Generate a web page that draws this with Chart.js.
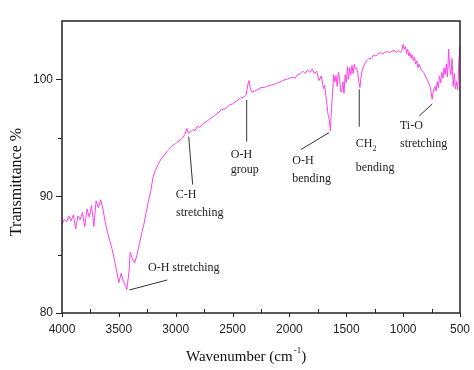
<!DOCTYPE html>
<html>
<head>
<meta charset="utf-8">
<script src="https://cdn.jsdelivr.net/npm/chart.js@4.4.0/dist/chart.umd.min.js"></script>
<style>
html, body { margin: 0; padding: 0; background: #fff; }
</style>
</head>
<body>
<canvas id="myChart" width="474" height="370"></canvas>
<script>
// FTIR spectrum
const wavenumbers = [
  4000, 3980, 3960, 3940, 3920, 3900, 3880, 3860, 3840, 3820, 3800, 3780, 3760, 3740, 3720, 3700,
  3680, 3660, 3640, 3620, 3600, 3580, 3560, 3540, 3520, 3500, 3480, 3460, 3440, 3430, 3410, 3400,
  3380, 3360, 3340, 3320, 3300, 3280, 3260, 3240, 3220, 3200, 3180, 3160, 3140, 3120, 3100, 3080,
  3060, 3040, 3020, 3000, 2980, 2960, 2940, 2920, 2900, 2890, 2870, 2850, 2830, 2810, 2790, 2760,
  2730, 2700, 2660, 2630, 2600, 2560, 2530, 2500, 2460, 2430, 2400, 2380, 2365, 2355, 2345, 2330,
  2310, 2280, 2250, 2220, 2200, 2160, 2130, 2100, 2060, 2030, 2000, 1970, 1950, 1930, 1900, 1880,
  1860, 1840, 1820, 1800, 1780, 1760, 1740, 1720, 1700, 1690, 1680, 1670, 1660, 1650, 1640, 1630,
  1620, 1610, 1600, 1590, 1580, 1570, 1560, 1550, 1540, 1530, 1520, 1510, 1500, 1490, 1480, 1470,
  1460, 1450, 1440, 1430, 1420, 1410, 1400, 1390, 1380, 1370, 1360, 1340, 1320, 1300, 1280, 1260,
  1240, 1220, 1200, 1180, 1160, 1140, 1120, 1100, 1080, 1060, 1040, 1020, 1010, 1000, 990, 980,
  970, 960, 950, 940, 930, 920, 910, 900, 890, 880, 870, 860, 840, 820, 800, 780,
  760, 745, 735, 720, 710, 700, 690, 680, 670, 660, 650, 640, 630, 620, 610, 600,
  590, 580, 570, 560, 550, 540, 530, 520, 510, 500
];
const transmittance = [
  87.6, 88.0, 87.8, 88.3, 87.9, 88.4, 87.2, 88.3, 88.0, 88.6, 87.4, 88.9, 88.2, 89.2, 87.4, 89.6,
  89.0, 89.7, 88.9, 87.8, 86.9, 86.2, 85.5, 84.6, 83.6, 82.6, 83.4, 82.7, 82.3, 82.0, 83.6, 85.2,
  84.6, 84.3, 85.0, 85.9, 86.8, 87.6, 88.6, 89.6, 90.4, 91.6, 92.2, 92.6, 93.0, 93.3, 93.5, 93.8,
  94.0, 94.2, 94.4, 94.5, 94.7, 94.8, 95.0, 95.3, 95.8, 95.4, 95.5, 95.7, 95.6, 96.0, 95.9, 96.2,
  96.4, 96.6, 96.9, 97.1, 97.4, 97.5, 97.8, 97.9, 98.2, 98.4, 98.5, 98.7, 99.6, 99.9, 99.3, 98.9,
  99.0, 99.1, 99.3, 99.3, 99.4, 99.5, 99.6, 99.7, 99.9, 100.0, 100.1, 100.2, 100.1, 100.4, 100.5, 100.7,
  100.5, 100.8, 100.6, 100.9, 100.5, 100.7, 99.9, 100.3, 99.2, 99.5, 98.6, 97.8, 97.0, 96.6, 95.6, 97.5,
  99.0, 100.4, 99.8, 100.3, 99.4, 100.6, 100.2, 99.0, 98.9, 99.8, 98.8, 100.4, 99.7, 101.1, 100.0, 101.0,
  100.4, 101.2, 100.5, 101.3, 100.9, 101.0, 100.6, 99.8, 99.3, 100.2, 100.8, 101.3, 101.6, 101.8, 101.8, 102.1,
  102.0, 102.2, 102.3, 102.2, 102.3, 102.4, 102.3, 102.4, 102.5, 102.3, 102.5, 102.3, 102.5, 103.0, 102.6, 102.8,
  102.2, 102.6, 102.0, 102.3, 101.8, 102.1, 101.6, 101.9, 101.3, 101.6, 101.0, 101.3, 100.8, 100.6, 100.2, 99.8,
  99.3, 98.3, 99.0, 99.4, 99.0, 99.8, 99.3, 100.3, 99.7, 100.6, 100.1, 101.0, 100.4, 101.3, 100.2, 102.6,
  101.0, 100.4, 101.8, 99.4, 100.5, 99.2, 99.8, 99.1, 101.6, 102.8
];
const xTicks = [4000, 3500, 3000, 2500, 2000, 1500, 1000, 500];
const yTicks = [80, 90, 100];

// band labels: leader line ends and text anchors in (wavenumber, %T)
const notes = [
  { line: [[3408, 81.97], [3074, 82.83]], text: [['O-H stretching', 3244, 83.88]] },
  { line: [[2886, 95.1], [2851, 91.0]], text: [['C-H', 3000, 90.1], ['stretching', 2997, 88.6]] },
  { line: [[2376, 98.24], [2376, 94.67]], text: [['O-H', 2516, 93.5], ['group', 2516, 92.24]] },
  { line: [[1652, 95.44], [1898, 94.0]], text: [['O-H', 1975, 93.0], ['bending', 1975, 91.47]] },
  { line: [[1386, 99.15], [1386, 95.95]], text: [['CH', 1417, 94.44, '2'], ['bending', 1417, 92.39]] },
  { line: [[744, 97.9], [858, 96.87]], text: [['Ti-O', 1028, 96.0], ['stretching', 1028, 94.47]] }
];

const serif = '"Liberation Serif", "Times New Roman", serif';

const extras = {
  id: 'extras',
  afterDraw(chart) {
    const ctx = chart.ctx;
    const a = chart.chartArea;
    const x = chart.scales.x;
    const y = chart.scales.y;
    ctx.save();

    // box
    ctx.strokeStyle = '#222';
    ctx.lineWidth = 1.5;
    ctx.strokeRect(a.left, a.top, a.right - a.left, a.bottom - a.top);

    // ticks
    ctx.lineWidth = 1;
    ctx.beginPath();
    for (let v = 500; v <= 4000; v += 250) {
      const px = Math.round(x.getPixelForValue(v)) + 0.5;
      if (v % 500 == 0) {
        ctx.moveTo(px, a.bottom); ctx.lineTo(px, a.bottom + 4);
      } else {
        ctx.moveTo(px, a.bottom); ctx.lineTo(px, a.bottom - 4);
      }
    }
    for (let v = 80; v <= 100; v += 5) {
      const py = Math.round(y.getPixelForValue(v)) + 0.5;
      ctx.moveTo(a.left, py);
      ctx.lineTo(a.left - (v % 10 == 0 ? 6 : 4), py);
    }
    ctx.stroke();

    // band labels
    ctx.strokeStyle = '#333';
    ctx.fillStyle = '#222';
    ctx.textBaseline = 'middle';
    ctx.textAlign = 'left';
    notes.forEach(n => {
      ctx.beginPath();
      ctx.moveTo(x.getPixelForValue(n.line[0][0]), y.getPixelForValue(n.line[0][1]));
      ctx.lineTo(x.getPixelForValue(n.line[1][0]), y.getPixelForValue(n.line[1][1]));
      ctx.stroke();
      n.text.forEach(t => {
        const tx = x.getPixelForValue(t[1]);
        const ty = y.getPixelForValue(t[2]);
        ctx.font = '12px ' + serif;
        ctx.fillText(t[0], tx, ty);
        if (t[3]) {
          const w = ctx.measureText(t[0]).width;
          ctx.font = '8px ' + serif;
          ctx.fillText(t[3], tx + w, ty + 5);
        }
      });
    });

    // axis titles
    ctx.fillStyle = '#111';
    ctx.font = '16px ' + serif;
    ctx.save();
    ctx.translate(17, 182);
    ctx.rotate(-Math.PI / 2);
    ctx.textAlign = 'center';
    ctx.fillText('Transmittance %', 0, 0);
    ctx.restore();

    ctx.textAlign = 'left';
    let cx = 186;
    const ly = 357;
    ctx.font = '15px ' + serif;
    const p1 = 'Wavenumber (cm';
    ctx.fillText(p1, cx, ly);
    cx += ctx.measureText(p1).width;
    ctx.font = '9px ' + serif;
    ctx.fillText('-1', cx + 1, ly - 6);
    cx += ctx.measureText('-1').width + 1;
    ctx.font = '15px ' + serif;
    ctx.fillText(')', cx, ly);

    ctx.restore();
  }
};

const ctx = document.getElementById('myChart').getContext('2d');

const points = wavenumbers.map((w, i) => ({ x: w, y: transmittance[i] }));

const config = {
  type: 'line',
  data: {
    datasets: [{
      data: points,
      borderColor: '#ff40e6',
      borderWidth: 1,
      pointRadius: 0,
      tension: 0,
      fill: false
    }]
  },
  options: {
    responsive: false,
    animation: false,
    layout: { padding: { top: 21, right: 14, left: 0, bottom: 0 } },
    plugins: {
      legend: { display: false },
      tooltip: { enabled: false }
    },
    scales: {
      x: {
        type: 'linear',
        reverse: true,
        min: 500,
        max: 4000,
        afterFit: s => { s.height = 57; s.paddingLeft = 0; s.paddingRight = 0; },
        afterBuildTicks: s => { s.ticks = xTicks.map(v => ({ value: v })); },
        grid: { display: false, drawTicks: false },
        border: { display: false },
        ticks: {
          padding: 9,
          color: '#222',
          font: { family: '"Liberation Sans", Arial, sans-serif', size: 12 },
          maxRotation: 0,
          autoSkip: false,
          callback: v => String(v)
        }
      },
      y: {
        type: 'linear',
        min: 80,
        max: 105,
        afterFit: s => { s.width = 62; s.paddingTop = 0; s.paddingBottom = 0; },
        afterBuildTicks: s => { s.ticks = yTicks.map(v => ({ value: v })); },
        grid: { display: false, drawTicks: false },
        border: { display: false },
        ticks: {
          padding: 9,
          color: '#222',
          font: { family: '"Liberation Sans", Arial, sans-serif', size: 12 },
          callback: v => String(v)
        }
      }
    }
  },
  plugins: [extras]
};

var chart = new Chart(ctx, config);
</script>
</body>
</html>
